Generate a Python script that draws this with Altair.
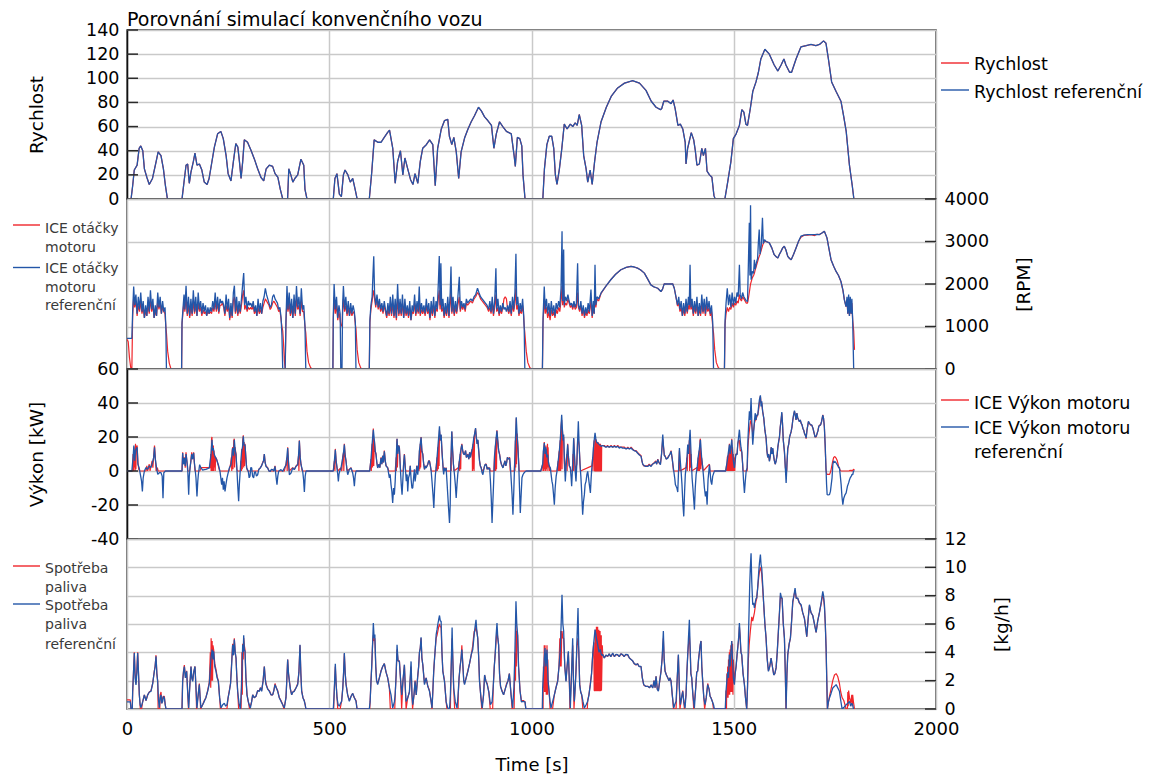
import altair as alt
import pandas as pd

FONT = "DejaVu Sans"
RED = "#f0262b"
BLUE = "#2356a8"
GRID = "#c9c9c9"
W = 809
HEIGHTS = [169, 170, 170, 170]

# ---------------------------------------------------------------- data
# vehicle speed [km/h] over time [s]
speed_ref = [
    (0, 0), (10, 0), (14, 11), (18, 24), (25, 28), (30, 42), (34, 44), (39, 40), (43, 25), (49, 18),
    (55, 12), (63, 17), (72, 31), (77, 39), (84, 36), (90, 25), (95, 11), (100, 0),
    (136, 0), (142, 17), (146, 28), (150, 29), (154, 13), (158, 22), (164, 31), (168, 38), (173, 28),
    (179, 29), (185, 24), (191, 14), (198, 12), (203, 17), (209, 29), (216, 43), (224, 54), (232, 56),
    (238, 50), (245, 36), (250, 21), (257, 15), (263, 31), (269, 46), (274, 43), (278, 31), (282, 17),
    (286, 31), (290, 49), (298, 47), (307, 40), (315, 33), (323, 25), (331, 18), (338, 15), (344, 25),
    (352, 28), (360, 27), (366, 21), (373, 18), (379, 8), (385, 0),
    (397, 0), (400, 25), (405, 20), (410, 14), (415, 17), (422, 20), (430, 33), (437, 28), (440, 8), (445, 0),
    (510, 0), (514, 17), (519, 21), (525, 4), (530, 2), (535, 20), (539, 24), (546, 20), (552, 14),
    (558, 17), (564, 8), (569, 0),
    (599, 0), (605, 22), (611, 49), (620, 47), (628, 47), (636, 51), (644, 55), (649, 57), (657, 42),
    (663, 13), (669, 31), (676, 40), (682, 20), (687, 34), (694, 25), (701, 16), (707, 12), (712, 21),
    (719, 13), (725, 31), (731, 42), (740, 45), (748, 49), (756, 45), (762, 11), (768, 42), (777, 58),
    (785, 65), (793, 66), (797, 52), (803, 45), (808, 51), (814, 39), (820, 17), (826, 39), (835, 51),
    (843, 58), (851, 64), (859, 69), (869, 76), (876, 73), (884, 68), (892, 65), (901, 61), (907, 42),
    (913, 54), (921, 64), (929, 60), (938, 56), (950, 54), (957, 36), (960, 27), (965, 51), (971, 50),
    (976, 44), (979, 20), (984, 0),
    (1028, 0), (1032, 25), (1038, 45), (1044, 52), (1050, 52), (1055, 42), (1059, 20), (1063, 12),
    (1069, 25), (1075, 42), (1081, 62), (1088, 58), (1096, 62), (1102, 60), (1108, 63), (1113, 61),
    (1118, 70), (1124, 61), (1129, 36), (1135, 25), (1139, 14), (1145, 24), (1150, 12), (1156, 31),
    (1162, 47), (1172, 64), (1185, 76), (1197, 85), (1213, 92), (1230, 96), (1250, 98), (1267, 96),
    (1283, 90), (1296, 81), (1308, 76), (1319, 74), (1322, 75), (1327, 81), (1337, 81), (1345, 79),
    (1350, 82), (1355, 75), (1362, 61), (1368, 62), (1374, 58), (1380, 47), (1382, 29), (1386, 42),
    (1395, 55), (1401, 49), (1405, 40), (1409, 28), (1415, 29), (1421, 42), (1425, 36), (1430, 42),
    (1434, 23), (1440, 20), (1446, 18), (1451, 3), (1454, 0),
    (1478, 0), (1485, 14), (1493, 31), (1499, 50), (1506, 54), (1514, 61), (1520, 74), (1525, 72),
    (1530, 62), (1534, 61), (1541, 75), (1547, 89), (1555, 97), (1561, 105), (1567, 116), (1577, 124),
    (1588, 120), (1600, 111), (1609, 106), (1617, 111), (1624, 116), (1629, 111), (1638, 105),
    (1643, 105), (1654, 116), (1666, 126), (1679, 127), (1691, 128), (1703, 127), (1712, 128),
    (1722, 131), (1728, 129), (1734, 116), (1742, 97), (1753, 89), (1765, 81), (1772, 68), (1778, 56),
    (1786, 28), (1793, 11), (1797, 0),
]
# the simulated speed follows the reference trace
speed_sim = speed_ref

# engine speed [RPM]: (time, reference, simulated)
engine_rpm = [
    (0, 720, 700), (3, 720, 640), (6, 720, 280), (9, 720, 40), (12, 720, 0), (14, 1350, 1250),
    (16.5, 1940, 1700), (19, 1500, 1450), (22, 1750, 1600), (25, 1300, 1250), (28, 1700, 1500),
    (31, 1400, 1350), (34, 1800, 1600), (37, 1350, 1300), (40, 1600, 1450), (43, 1200, 1200),
    (46, 1500, 1350), (49, 1250, 1250), (52, 1700, 1500), (55, 1350, 1300), (58, 1850, 1650),
    (61, 1400, 1350), (64, 1650, 1500), (67, 1200, 1200), (70, 1500, 1350), (73, 1250, 1250),
    (76, 1800, 1600), (79, 1450, 1400), (82, 1700, 1550), (85, 1300, 1300), (88, 1600, 1450),
    (91, 1350, 1350), (94, 1450, 1300), (96, 1000, 1000), (97.5, 0, 850), (100.5, 0, 420),
    (104.5, 0, 140), (108.5, 0, 10), (112, 0, 0),
    (135, 0, 0), (136, 1100, 1050), (139, 1500, 1400), (141, 1750, 1600), (143, 1400, 1350),
    (146, 1960, 1700), (149, 1300, 1250), (152, 1700, 1500), (155, 1250, 1200), (158, 1650, 1500),
    (161, 1300, 1250), (164, 1850, 1600), (167, 1350, 1300), (170, 1700, 1500), (173, 1250, 1250),
    (176, 1800, 1550), (179, 1400, 1350), (182, 1600, 1450), (185, 1300, 1250), (188, 1550, 1400),
    (191, 1350, 1300), (194, 1500, 1350), (197, 1250, 1250), (200, 1450, 1350), (203, 1300, 1300),
    (206, 1450, 1350), (209, 1350, 1300), (212, 1600, 1450), (215, 1400, 1350), (218, 1800, 1600),
    (221, 1400, 1350), (224, 1700, 1550), (227, 1350, 1300), (230, 1650, 1500), (233, 1550, 1500),
    (236, 1600, 1550), (239, 1500, 1450), (242, 1300, 1250), (245, 1750, 1500), (248, 1400, 1350),
    (251, 1650, 1500), (254, 1200, 1150), (257, 1550, 1400), (260, 1250, 1200), (263, 1800, 1600),
    (265.5, 1960, 1700), (268, 1350, 1300), (271, 1700, 1500), (274, 1300, 1250), (277, 1600, 1450),
    (280, 1350, 1300), (283, 1650, 1500), (286, 2000, 1750), (288.5, 2260, 1850), (291, 1500, 1400),
    (294, 1700, 1500), (297, 1400, 1350), (300, 1600, 1450), (303, 1500, 1400), (306, 1550, 1450),
    (309, 1450, 1400), (312, 1600, 1500), (315, 1350, 1300), (318, 1500, 1400), (321, 1250, 1250),
    (324, 1650, 1450), (327, 1350, 1300), (330, 1550, 1400), (333, 1300, 1300), (336, 1600, 1450),
    (339, 1700, 1550), (342, 1900, 1650), (345, 1750, 1600), (348, 1650, 1550), (351, 1550, 1500),
    (354, 1450, 1400), (357, 1500, 1450), (360, 1700, 1550), (363, 1750, 1600), (366, 1650, 1550),
    (369, 1600, 1500), (372, 1550, 1450), (375, 1400, 1350), (378, 1450, 1400), (381, 1200, 1150),
    (383, 800, 1000), (385, 0, 900), (387, 0, 600), (389, 0, 200), (391, 0, 0),
    (393, 1150, 1100), (395.5, 1950, 1650), (398, 1400, 1350), (401, 1800, 1550), (404, 1300, 1250),
    (407, 1650, 1450), (410, 1200, 1200), (413, 1750, 1500), (416, 1300, 1250), (419, 1950, 1650),
    (422, 1450, 1400), (425, 1700, 1500), (428, 1300, 1250), (431, 1900, 1600), (434, 1400, 1350),
    (437, 1500, 1350), (440, 1000, 1000), (442, 0, 850), (445, 0, 420), (449, 0, 150), (454, 0, 30),
    (459, 0, 0),
    (509, 0, 0), (510, 1250, 1150), (512, 2000, 1700), (515, 1400, 1300), (518, 1700, 1500),
    (521, 1200, 1150), (524, 1500, 1350), (527, 1300, 1150), (528.5, 0, 1050), (531.5, 0, 1000),
    (533, 1500, 1350), (535, 1950, 1650), (538, 1400, 1350), (541, 1700, 1500), (544, 1300, 1250),
    (547, 1600, 1450), (550, 1250, 1250), (553, 1550, 1400), (556, 1300, 1250), (559, 1500, 1350),
    (562, 1350, 1300), (564.5, 1100, 1050), (566, 0, 950), (569, 0, 450), (573, 0, 150), (578, 0, 20),
    (582, 0, 0),
    (599, 0, 0), (600.5, 1150, 1100), (603, 1500, 1400), (606, 1700, 1600), (608, 2200, 1750),
    (610, 2650, 1850), (612, 1800, 1650), (615, 1500, 1450), (618, 1750, 1700), (621, 1450, 1400),
    (624, 1650, 1550), (627, 1400, 1350), (630, 1550, 1450), (633, 1350, 1300), (636, 1600, 1500),
    (639, 1400, 1350), (642, 1250, 1200), (645, 1550, 1400), (648, 1300, 1250), (651, 1700, 1500),
    (654, 1300, 1250), (657, 1750, 1550), (660, 1250, 1200), (663, 1650, 1450), (666, 1200, 1150),
    (669, 2000, 1650), (672, 1300, 1250), (675, 1650, 1450), (678, 1300, 1250), (681, 1750, 1550),
    (684, 1200, 1200), (687, 1650, 1450), (690, 1300, 1250), (693, 1500, 1400), (696, 1250, 1200),
    (699, 1600, 1450), (702, 1150, 1150), (705, 1500, 1350), (708, 1350, 1300), (711, 1750, 1550),
    (714, 1300, 1250), (717, 1600, 1450), (720, 1350, 1300), (722.5, 1940, 1600), (725, 1300, 1250),
    (728, 1550, 1400), (731, 1350, 1300), (734, 1500, 1400), (737, 1300, 1250), (740, 1650, 1500),
    (743, 1350, 1300), (746, 1550, 1400), (749, 1200, 1150), (752, 1600, 1450), (755, 1300, 1250),
    (758, 1700, 1500), (761, 1250, 1200), (764, 1600, 1450), (767, 1400, 1350), (770, 2100, 1700),
    (772, 2660, 1850), (774, 1500, 1400), (776, 2490, 1800), (778, 1400, 1350), (781, 1650, 1450),
    (784, 1250, 1200), (787, 1550, 1400), (790, 1300, 1250), (793, 1700, 1500), (796, 1250, 1200),
    (799, 1800, 1550), (801, 2410, 1800), (803, 1350, 1300), (806, 1700, 1500), (809, 1300, 1250),
    (812, 1600, 1450), (815, 1350, 1300), (818, 1700, 1500), (821.5, 2170, 1700), (824, 1400, 1350),
    (827, 1600, 1500), (830, 1450, 1400), (833, 1550, 1500), (836, 1400, 1350), (839, 1650, 1550),
    (842, 1550, 1500), (846, 1600, 1550), (850, 1650, 1600), (854, 1600, 1550), (858, 1700, 1650),
    (862, 1750, 1700), (866.5, 1900, 1800), (870, 1800, 1750), (874, 1700, 1650), (878, 1650, 1600),
    (882, 1600, 1550), (886, 1550, 1500), (890, 1500, 1450), (894, 1400, 1350), (897, 1600, 1450),
    (900, 1350, 1300), (903, 1700, 1500), (906, 1300, 1250), (909, 1600, 1450), (912, 2370, 1750),
    (914, 1400, 1350), (917, 1650, 1450), (920, 1300, 1250), (923, 1500, 1400), (926, 1350, 1300),
    (929, 1550, 1450), (932, 1400, 1650), (935, 1450, 1700), (938, 1350, 1650), (941, 1500, 1400),
    (944, 1350, 1300), (947, 1600, 1450), (950, 1300, 1250), (953, 1700, 1500), (956, 1400, 1350),
    (959, 1800, 1550), (961.5, 2710, 1900), (963.5, 1500, 1400), (966, 1700, 1500), (969, 1300, 1250),
    (972, 1550, 1400), (975, 1350, 1300), (978, 1650, 1500), (980.5, 1300, 1250), (982, 950, 1000),
    (983.5, 0, 850), (987, 0, 420), (991, 0, 150), (996, 0, 30), (1001, 0, 0),
    (1027, 0, 0), (1028.5, 1200, 1100), (1031.5, 1940, 1650), (1034, 1400, 1300), (1037, 1650, 1450),
    (1040, 1300, 1200), (1043, 1550, 1350), (1046, 1250, 1150), (1049, 1600, 1400), (1052, 1300, 1250),
    (1055, 1500, 1350), (1058, 1250, 1200), (1061, 1550, 1400), (1064, 1400, 1300), (1067, 1600, 1450),
    (1070, 1450, 1350), (1073, 1900, 1600), (1075.5, 3240, 1950), (1077, 1600, 1500),
    (1079.5, 2810, 1850), (1081, 1500, 1450), (1084, 1700, 1550), (1087, 1600, 1500),
    (1090, 1750, 1650), (1093, 1600, 1550), (1096, 1500, 1450), (1099, 1550, 1500), (1102, 1450, 1400),
    (1105, 1600, 1550), (1108, 1450, 1400), (1111, 1550, 1450), (1114, 2490, 1800), (1116, 1500, 1450),
    (1119, 1400, 1350), (1122, 1600, 1500), (1125, 1300, 1250), (1128, 1500, 1400), (1131, 1250, 1200),
    (1134, 1450, 1350), (1137, 1300, 1250), (1140, 1550, 1400), (1143, 1350, 1300), (1147, 1870, 1600),
    (1150, 1250, 1200), (1153, 1600, 1450), (1155, 1300, 1300), (1157, 2450, 1800), (1159, 1500, 1450),
    (1162, 1700, 1650), (1166, 1650, 1600), (1172, 1790, 1780), (1184, 1950, 1950), (1196, 2100, 2100),
    (1208, 2230, 2230), (1221, 2335, 2335), (1234, 2390, 2390), (1246, 2413, 2413), (1254, 2400, 2400),
    (1262, 2374, 2374), (1270, 2330, 2330), (1279, 2256, 2256), (1287, 2120, 2120), (1295, 1980, 1980),
    (1303, 1930, 1930), (1312, 1900, 1900), (1320, 1822, 1822), (1324, 1880, 1880), (1328, 2004, 2004),
    (1338, 2000, 2000), (1349, 2004, 2004), (1353, 1900, 1900), (1357, 1705, 1705), (1361, 1508, 1480),
    (1364, 1700, 1550), (1367, 1400, 1350), (1370, 1600, 1450), (1373, 1250, 1250), (1376, 1550, 1400),
    (1379, 1300, 1250), (1382, 1650, 1500), (1385, 1350, 1300), (1388, 1700, 1500), (1390, 1500, 1400),
    (1392, 2455, 1800), (1394, 1450, 1400), (1397, 1650, 1500), (1400, 1300, 1250), (1403, 1600, 1450),
    (1406, 1350, 1300), (1409, 1700, 1500), (1412, 1250, 1250), (1415, 1550, 1400), (1418, 1300, 1250),
    (1421, 1750, 1550), (1424, 1350, 1300), (1427, 1650, 1500), (1430, 1300, 1250), (1433, 1700, 1500),
    (1436, 1400, 1350), (1439, 1600, 1450), (1442, 1300, 1250), (1445, 1500, 1350), (1448, 1100, 1000),
    (1450, 0, 850), (1453, 0, 450), (1457, 0, 150), (1462, 0, 30), (1466, 0, 0),
    (1477, 0, 0), (1478.5, 1150, 1050), (1481, 1550, 1300), (1484, 1900, 1450), (1487, 1500, 1350),
    (1490, 1750, 1450), (1493, 1450, 1400), (1496, 1800, 1550), (1499, 1500, 1450), (1502, 1700, 1550),
    (1505, 1550, 1500), (1508, 1800, 1600), (1511, 1700, 1550), (1514, 2450, 1750), (1516, 1750, 1650),
    (1519, 1650, 1600), (1522, 1800, 1700), (1525, 1700, 1650), (1528, 1650, 1600), (1531, 1600, 1550),
    (1534, 1590, 1550), (1536, 2400, 1650), (1538.5, 3440, 1800), (1540, 2200, 1900),
    (1541.5, 3850, 2000), (1543, 2100, 2050), (1546, 2300, 2150), (1549, 2250, 2200),
    (1551, 2570, 2250), (1553, 2350, 2330), (1556, 2500, 2430), (1559, 2600, 2530), (1561, 3000, 2600),
    (1563, 3280, 2650), (1565, 2700, 2700), (1568, 2900, 2800), (1571, 3560, 2900), (1573, 2950, 2950),
    (1576, 3045, 3000), (1580, 3000, 3000), (1588, 2967, 2967), (1594, 2850, 2850), (1600, 2690, 2690),
    (1605, 2640, 2640), (1609, 2611, 2611), (1613, 2700, 2700), (1617, 2769, 2769), (1621, 2850, 2850),
    (1625, 2887, 2887), (1629, 2800, 2800), (1633.5, 2650, 2650), (1638, 2600, 2600),
    (1642, 2572, 2572), (1648, 2700, 2700), (1654, 2848, 2848), (1660, 3000, 3000), (1666, 3124, 3100),
    (1674, 3150, 3150), (1683, 3163, 3150), (1691, 3160, 3160), (1700, 3163, 3140), (1706, 3170, 3170),
    (1712, 3163, 3163), (1718, 3200, 3200), (1724, 3243, 3243), (1730.5, 3085, 3085),
    (1735, 2850, 2850), (1740.5, 2572, 2572), (1747, 2420, 2420), (1753, 2296, 2296),
    (1759, 2200, 2200), (1765, 2059, 2059), (1770, 1850, 1850), (1773.5, 1625, 1625),
    (1777.5, 1468, 1468), (1780, 1700, 1600), (1782, 1300, 1300), (1784, 1750, 1650),
    (1786, 1250, 1250), (1788, 1700, 1600), (1790, 1300, 1300), (1792, 1650, 1550), (1794, 1150, 1150),
    (1796.5, 0, 900), (1798.5, 0, 450),
]

# engine power [kW], reference
power_ref = [
    (0, 0), (12, 0), (15, 8), (17, 15), (19, 6), (21, 12), (23, 13), (25, 14), (27, 4), (30, 2), (33, -2),
    (36, -6), (38, -12), (40, -4), (43, 0), (47, 2), (51, 1), (55, 3), (59, 2), (63, 5), (66, 8), (68, 14),
    (70, 7), (73, 2), (76, -2), (80, -1), (84, -1), (87, -3), (89, -16), (91, -1), (95, 0), (100, 0),
    (136, 0), (137.6, 10.6), (139.5, 4), (141.8, 7.6), (144, 3), (145.9, 10), (148, 6), (150, 1.8),
    (152.5, -14), (154, -3), (155.8, 1.8), (158, 6), (159.9, 10), (162, 7), (164.8, 10.6), (166.5, 5),
    (168.1, 1.8), (170.5, -4), (173, -15), (175, -6), (176.3, -2.2), (179.6, 3.7), (182.9, 1.8),
    (187, 0.5), (191.1, 0.8), (195, 1), (199.4, 1.4), (203.5, 1.8), (207.6, 9.6), (210.1, 18.4),
    (211.8, 12), (213.4, 13.5), (215.5, 10), (217.5, 8.6), (221.6, 6.7), (225.8, 3.7), (229.9, -0.2),
    (234, -8), (236, -4), (238.1, -11), (240, -6), (242.3, -12), (244.5, -8), (247.2, -4.1), (253, 1.8),
    (257.1, 3.7), (261.2, 13.5), (263.5, 9), (265.3, 18.4), (267.5, 12), (269.5, 9.6), (271.5, 2),
    (273.6, -8), (276, -17.8), (277.7, -8), (279.3, -2.2), (281.5, 6), (283.4, 11.6), (285.5, 14),
    (287.6, 20.4), (289.5, 15), (291.7, 15.5), (293.8, 8), (295.8, 1.8), (299.9, -0.2), (302, -4),
    (304.1, -3.1), (306, 2), (308.2, 1.8), (310.5, -3), (313.1, -4.1), (315, -1), (317.3, -0.2),
    (320, -3), (323, -2.2), (326, 1), (329.6, 1.8), (332.5, 3), (335.4, 4.7), (337.5, 6), (339.5, 10),
    (341.5, 5), (343.6, 2.7), (347.7, 1.8), (351, 0), (354.3, -0.2), (357, 1), (360.1, 0.8), (363, 0),
    (365.9, 2.7), (368.3, -3), (370.8, -8), (372.8, -3), (374.9, -0.2), (380.7, 0.8), (384.8, -0.2),
    (389, 1.8), (393.1, 3.7), (395.2, 8), (397.2, 13.5), (399.3, 5), (401.4, -2.2), (405.5, -1.2),
    (409.6, 1.8), (413.7, 0.8), (417.9, 2.7), (422, 3.7), (424, 9), (426.1, 17.8), (428.2, 8),
    (430.2, 3.7), (434.4, -0.2), (436.5, -5), (438.5, -12.4), (440.5, -3), (442.6, 0),
    (510, 0), (512.6, 5.7), (515, 12.5), (517, 6), (519.2, 1.8), (521, -2), (522.5, -6.1), (524, -2),
    (525.8, -0.2), (529.1, 1.8), (533.2, 7.6), (535.3, 11), (537.3, 15.5), (539.4, 9), (541.5, 5.7),
    (543.6, 1), (545.6, -2.2), (549.7, 0.8), (553.8, 1.8), (558, -1.2), (560, -4), (562.1, -9),
    (564, -3), (566.2, 0),
    (600, 0), (603.2, 7), (606, 16), (609, 24.3), (611.5, 18), (613.5, 12), (615.6, 9.6), (617.6, 5),
    (619.7, 1.8), (623, 4), (625, 2), (628, 7.6), (630, 4), (632, 9), (634, 5), (636.2, 11.6),
    (638.5, 6), (640.5, 3), (644.5, 1.8), (648.6, -4), (650.5, -2), (652.7, -8), (654.8, -12),
    (656.8, -18.8), (659, -10), (661, -13.9), (663, -6), (665.5, 8), (667.6, 19), (669.5, 10),
    (671.5, 15), (673.4, 13.5), (675.7, 2), (678, -8), (680, -14), (682, -5), (683.8, 4), (685.8, 9.6),
    (688, 2), (690.5, -6), (692.5, -2), (694, -12), (696, -4), (698.2, -2.2), (700.3, 3), (702.4, -5),
    (704.4, -10), (706.4, -10), (708.5, -4), (710.5, 1), (712.2, -6.1), (714.5, -2), (716.5, 3),
    (718.8, -2.2), (721, 4), (723, 12), (725, 16), (727, 19.8), (729, 12), (731.3, 9.6), (733.5, 4),
    (735.5, 1), (737.5, 3), (739.5, 1.8), (743.7, 4), (745.8, 6), (747.8, 5.7), (750, 3), (752, 0),
    (754, -6), (756.5, -14), (758.5, -21.8), (760.5, -10), (762.5, -2), (764.3, 1.8), (766.5, 8),
    (768.5, 14), (770.5, 20), (772.5, 26.3), (774.5, 18), (776.6, 21.4), (778.6, 12), (780.8, 4),
    (782.8, -2), (784.8, 1.8), (787, 0), (789, 1.8), (791, -6), (793, -14), (795, -22), (797.3, -30.6),
    (799, -20), (800.8, 8), (803, 23.3), (805, 12), (807, 4), (809.6, -2.2), (811.7, -8),
    (813.8, -15.9), (815.8, -8), (817.7, -2), (819.6, 1.8), (821.7, 6), (823.7, 10), (825.8, 13),
    (827.8, 15.5), (829.9, 12), (832, 10), (834.4, 9.6), (837, 12), (839, 8), (842.7, 9.6), (845, 7),
    (847, 11), (849, 8), (851, 10.6), (853.5, 13), (855.5, 16), (857.5, 20), (859.5, 22), (861.7, 25.3),
    (863.5, 20), (865.5, 16), (867.5, 18.4), (869.5, 12), (871.5, 6), (873.5, 3), (875.7, 1.8),
    (877.8, -1), (879.9, -2.2), (882, 1), (884, 3), (886, 4), (888.1, 3.7), (890.5, 1), (892.5, 2),
    (894.5, 1), (896.4, 1.8), (898.5, -6), (900.5, -16), (902.5, -30.6), (904.5, -18), (906.5, -6),
    (908.8, 9.6), (910.8, 15), (912.8, 20), (914.5, 23.7), (916.5, 18), (918.8, 12), (921.1, 9.6),
    (923.5, 6), (925.5, 4), (927.5, 3), (929.4, 1.8), (932, 4), (934.5, 6), (936.5, 3), (938.5, 5),
    (940.5, 8), (942.5, 7), (945.9, 7.6), (948, 2), (950, -6), (952, -14), (954.1, -25.7), (956.2, -12),
    (958.2, 4), (960.2, 18), (962.3, 31.6), (964.3, 22), (966.5, 13.5), (968.5, 4), (970.3, -10),
    (972.3, -24.7), (974.4, -14), (976.4, -4), (978.8, -2.2), (982, -1), (985, -0.2), (987, 0),
    (1023, 0), (1027.6, 4), (1029.5, 12), (1031.7, 16.5), (1033.5, 10), (1035.5, 14), (1037.8, 8),
    (1040, 9.6), (1042, 5), (1044, 3), (1046.6, 1.8), (1049, -3), (1050.5, -6), (1052.3, -8),
    (1054.5, -14), (1056.5, -19.8), (1058.5, -10), (1061, -3), (1063, -0.2), (1066, 6), (1068.8, 11.6),
    (1071, 18), (1073, 26), (1074.6, 33.1), (1076.5, 24), (1078, 18), (1079.5, 21.4), (1081.5, 6),
    (1083.6, -6.1), (1085.5, 2), (1087.5, 10), (1089.4, 15.5), (1091.5, 8), (1093.5, 3), (1096, 1.8),
    (1098, -4), (1099.3, -9), (1101, 0), (1102.7, 10), (1104.3, 19.4), (1106.5, 8), (1108, 0),
    (1110, -6.1), (1112, 4), (1114, 18), (1115.8, 29.2), (1117.8, 15), (1120, 3.7), (1122, -3),
    (1124, -12), (1126.5, -25.7), (1128.5, -18), (1130.7, -13.9), (1132.5, -8), (1134.8, -6.1),
    (1137, -2), (1139, -0.2), (1141, -4), (1143, -8), (1145.6, -12.9), (1147.5, -4), (1149.5, 3),
    (1151.3, 7.6), (1153.3, 14), (1155, 18), (1157.1, 22.4), (1159, 19), (1161, 17), (1163.7, 16.5),
    (1168, 15.5), (1172, 14.5), (1176, 15), (1180.2, 14.5), (1184, 14), (1188, 14.5), (1192, 14),
    (1196.7, 14.5), (1201, 14), (1205, 14.5), (1209, 14), (1213.2, 14.5), (1217, 13.5), (1221, 14),
    (1225, 13.5), (1229.7, 13.5), (1234, 13), (1238, 13.5), (1242, 13), (1246.2, 13.5), (1250, 12.5),
    (1254, 12), (1258.5, 11.6), (1262, 10.6), (1266, 9.6), (1270.9, 8.6), (1273, 6), (1275, 4),
    (1277.5, 3.3), (1282, 2.7), (1287.4, 2.7), (1291, 3.5), (1295.6, 2.7), (1299, 4), (1303.9, 4.7),
    (1307, 5.5), (1309.5, 4), (1312.1, 6.7), (1315, 5), (1318.7, 3.7), (1321.5, 10), (1324.5, 21.4),
    (1326.5, 14), (1328.5, 9), (1330.3, 8.6), (1333, 7), (1336.9, 7.6), (1340, 9), (1342.5, 10),
    (1345.1, 11.6), (1348, 7), (1351.7, 0), (1354, -4), (1355.7, -8), (1357.5, -9), (1359.5, -10),
    (1361.6, -12.4), (1363.5, 0), (1365.7, 13.5), (1367.8, 6), (1369.8, 0), (1372, -8), (1374, -18),
    (1376.4, -26.7), (1378.5, -12), (1380.3, -2), (1382.2, 1.8), (1384.3, 8), (1386.3, 15.5),
    (1388.5, 10), (1390.3, 18), (1392.1, 24.3), (1394.5, 10), (1397, -4.1), (1399, -10), (1400.8, -16),
    (1402.8, -22.7), (1404.8, -10), (1407, -2), (1409.4, 1.8), (1412, 8), (1414.5, 12), (1417.6, 18.4),
    (1420.5, 8), (1423.4, 1.8), (1425.5, -4), (1427.5, -10), (1430, -15), (1432, -12), (1434.1, -19.8),
    (1436.5, -5), (1439.9, 3.7), (1442, -2), (1443.5, -6), (1445.6, -8), (1448, -3), (1452.2, 0),
    (1480, 0), (1482, 3), (1485.2, 8), (1487.3, 12), (1489.3, 15.5), (1491.2, 10), (1493, 14),
    (1495.1, 18.4), (1497, 12), (1499, 6), (1501.6, 1.8), (1503.5, 6), (1505.5, 10), (1508.2, 9.6),
    (1510, 16), (1512, 20), (1514, 24.3), (1516, 18), (1517.8, 14), (1519.8, 11.6), (1522, 4),
    (1524, -5), (1526.4, -12.9), (1528.5, -6), (1530.7, 0), (1533, 1.8), (1535, 18), (1537, 28),
    (1538.7, 35.1), (1540.7, 30), (1542.8, 42.9), (1545, 26), (1547, 15.5), (1549, 22), (1551.1, 29.2),
    (1553, 34), (1555, 30), (1557, 33), (1559.3, 32.9), (1561.5, 38), (1563.5, 42), (1565.9, 44.5),
    (1567.5, 38), (1569.2, 41), (1571.5, 35), (1574.2, 31.2), (1577, 24), (1580, 19.4), (1582, 12),
    (1584, 8), (1586, 10), (1588.2, 5.7), (1590.5, 9), (1592.5, 14), (1594.5, 10), (1596.5, 13.5),
    (1598.5, 9), (1600.5, 6), (1602.5, 4), (1604.7, 5.7), (1607, 9), (1609, 14), (1611, 17.5),
    (1613, 20), (1615, 26), (1617, 30), (1618.8, 34.7), (1620.5, 28), (1622.5, 18), (1625.3, 11.6),
    (1627.5, 2), (1629.5, -7.1), (1631.5, 4), (1633.6, 13.5), (1636, 16), (1638, 20), (1641.9, 23.3),
    (1644, 26), (1646, 30), (1648, 33), (1650.1, 35.5), (1652, 33), (1654, 30), (1656, 34),
    (1658.3, 31.2), (1660.5, 30), (1662.5, 29), (1664.5, 30), (1666.6, 28.2), (1669, 27), (1671, 25),
    (1673, 24), (1675, 22), (1677, 21), (1679, 19.4), (1681, 24), (1684.7, 29.2), (1687, 28),
    (1690, 27.3), (1693, 27), (1696, 25), (1699, 22), (1701, 20), (1703.7, 20.4), (1706, 22),
    (1708.5, 24), (1710, 26), (1712, 26.9), (1714.5, 27), (1717, 29), (1720.2, 32.9), (1722, 31),
    (1724, 26), (1726, 15.5), (1728, 2), (1729.5, -8), (1730.9, -13.9), (1733, -14), (1736.7, -13.9),
    (1739, -12), (1741, -8), (1743, -4), (1744.9, 3.7), (1747, 6), (1749, 5), (1751, 5.5),
    (1753.2, 4.7), (1755, 4), (1757.5, 3), (1759.5, 2), (1761.4, 1.8), (1763.5, -3), (1765.5, -8),
    (1767.5, -15), (1769.7, -19.8), (1772, -16), (1775, -14), (1777.9, -12.9), (1781, -9), (1784, -7),
    (1786.2, -5.1), (1788, -4), (1790.5, -3), (1792.5, -2), (1794.4, -2.2), (1796, 0), (1798.5, 0.2),
]

# engine power [kW], simulation
power_sim = [
    (0, 0), (14, 0), (15, 10), (16, 0), (17, 14), (18, 2), (19, 12), (20, 0), (21, 16), (22, 1), (23, 14),
    (25, 15), (27, 5), (29, 1), (31, 0), (47, 0), (49, 3), (51, 0), (55, 4), (57, 0), (62, 6), (64, 2),
    (66, 9), (68, 15), (70, 8), (72, 0), (75, 2), (77, 0), (100, 0),
    (136, 0), (137.6, 11), (139.5, 4), (141.8, 8), (144, 2), (145.9, 11), (148, 6), (150, 0), (155, 0),
    (158, 6), (159.9, 11), (162, 7), (164.8, 11), (166.5, 5), (168, 0), (180, 0), (183, 2), (206, 2),
    (207, 10), (208, 0), (209, 19), (210.1, 20), (211, 0), (212, 14), (213.4, 15), (214, 0), (215, 12),
    (216, 2), (217, 9), (218, 0), (219, 8), (221.6, 7), (225.8, 3), (229, 0), (252, 0), (254, 2),
    (256, 4), (258, 8), (259, 0), (260, 12), (261.2, 14), (262, 1), (263, 11), (264, 18), (265.3, 19),
    (266, 2), (267, 14), (269.5, 10), (271.5, 1), (273, 0), (281, 0), (282, 6), (283, 0), (284, 13),
    (285, 1), (286, 18), (287.6, 21), (288.5, 2), (289.5, 17), (290.5, 3), (291.7, 16), (293.8, 8),
    (295.8, 2), (298, 0), (324, 0), (326, 1), (329.6, 2), (332.5, 3), (335.4, 5), (337.5, 6),
    (339.5, 10), (341.5, 5), (343.6, 3), (347.7, 2), (351, 0), (363, 0), (365.9, 3), (368, 0),
    (389, 0), (393.1, 4), (395.2, 8), (396, 0), (397.2, 14), (399.3, 5), (401, 0), (409.6, 2),
    (413.7, 1), (417.9, 3), (422, 4), (424, 9), (425, 0), (426.1, 18), (428.2, 8), (430.2, 4),
    (433, 0), (443, 0),
    (510, 0), (512.6, 6), (514, 0), (515, 13), (517, 6), (519.2, 2), (521, 0), (529, 2), (531, 0),
    (533.2, 8), (535.3, 11), (536, 0), (537.3, 16), (539.4, 9), (541.5, 6), (543.6, 1), (545, 0),
    (549.7, 1), (553.8, 2), (556, 0), (566, 0),
    (600, 0), (603.2, 7), (604, 0), (605, 12), (606, 16), (607, 2), (608, 20), (609, 25), (610, 3),
    (611.5, 18), (613.5, 12), (615.6, 10), (617.6, 5), (619.7, 2), (623, 4), (625, 2), (628, 8),
    (630, 4), (632, 9), (634, 5), (636.2, 12), (638.5, 6), (640.5, 3), (644.5, 2), (647, 0), (663, 0),
    (665.5, 8), (666, 0), (667, 17), (667.6, 19), (668.5, 2), (669.5, 10), (671.5, 15), (673.4, 14),
    (675.7, 2), (677, 0), (683, 0), (683.8, 4), (685.8, 10), (688, 2), (689, 0), (699, 0), (700.3, 3),
    (701, 0), (715, 0), (716.5, 3), (718.5, 0), (721, 4), (722, 0), (723, 12), (724, 1), (725, 16),
    (726, 2), (727, 20), (729, 12), (731.3, 10), (733.5, 4), (735.5, 1), (737.5, 3), (739.5, 2),
    (743.7, 4), (745.8, 6), (747.8, 6), (750, 3), (752, 0), (764, 0), (764.3, 2), (766.5, 8), (767, 0),
    (768.5, 14), (769.5, 1), (770.5, 20), (771.5, 3), (772.5, 24), (774.5, 18), (776.6, 21),
    (778.6, 12), (780.8, 4), (782, 0), (784.8, 2), (786, 0), (789, 2), (790, 0), (800, 0), (800.8, 8),
    (801.5, 0), (802.3, 18), (803, 23), (805, 12), (807, 4), (808.5, 0), (819.6, 2), (821.7, 6),
    (822.5, 0), (823.7, 10), (825, 1), (825.8, 13), (827.8, 16), (829.9, 12), (832, 10), (834.4, 10),
    (837, 12), (839, 8), (842.7, 10), (845, 7), (847, 11), (849, 8), (851, 11), (853.5, 13), (854, 0),
    (855.5, 16), (856, 1), (857.5, 20), (858, 0), (859.5, 22), (861.7, 25), (863.5, 20), (865.5, 16),
    (867.5, 18), (869.5, 12), (871.5, 6), (873.5, 3), (875.7, 2), (877, 0), (882, 1), (884, 3),
    (886, 4), (888.1, 4), (890.5, 1), (892.5, 2), (894.5, 1), (896.4, 2), (898, 0), (907, 0),
    (908.8, 10), (909.5, 0), (910.8, 15), (911.5, 0), (912.8, 20), (913.5, 1), (914.5, 24),
    (916.5, 18), (918.8, 12), (921.1, 10), (923.5, 6), (925.5, 4), (927.5, 3), (929.4, 2), (932, 4),
    (934.5, 6), (936.5, 3), (938.5, 5), (940.5, 8), (942.5, 7), (945.9, 8), (947.5, 0), (957.5, 0),
    (958.2, 4), (959, 0), (960.2, 18), (961, 2), (962.3, 31), (963, 4), (964.3, 22), (966.5, 14),
    (968.5, 4), (969.5, 0), (987, 0),
    (1023, 0), (1027.6, 4), (1028.5, 0), (1029.5, 12), (1030.2, 0), (1031, 15), (1031.7, 17),
    (1032.5, 1), (1033.5, 10), (1034.2, 0), (1035.5, 15), (1036.3, 1), (1037.8, 13), (1038.5, 0),
    (1039.5, 16), (1040.3, 2), (1041, 14), (1042, 5), (1043.5, 0), (1044, 3), (1045, 0), (1046.6, 2),
    (1047.5, 0), (1063, 0), (1066, 6), (1066.8, 0), (1068, 11), (1068.8, 12), (1069.5, 0),
    (1070.5, 16), (1071, 18), (1072, 0), (1073, 26), (1074.6, 30), (1075.5, 1), (1076.5, 24),
    (1078, 18), (1079.5, 20), (1081, 5), (1082, 0), (1087.5, 10), (1088, 0), (1089.4, 16),
    (1091.5, 8), (1093.5, 3), (1096, 2), (1097, 0), (1101, 0), (1102.7, 10), (1103.5, 0),
    (1104.3, 19), (1106.5, 8), (1108, 0), (1112, 4), (1114, 18), (1115.8, 18), (1117.8, 15),
    (1120, 4), (1121, 0), (1149.5, 3), (1151.3, 8), (1152, 0), (1153.3, 14), (1155, 18), (1156, 0),
    (1158, 0), (1158.5, 19), (1159, 0), (1161, 0), (1161.5, 17), (1162, 0), (1164, 0), (1164.5, 17),
    (1165, 0), (1167, 0), (1167.5, 16), (1168, 0), (1170, 0), (1170.5, 16), (1171, 0), (1173, 0),
    (1173.5, 15), (1176, 15), (1180.2, 15), (1184, 14), (1188, 15),
    (1192, 14), (1196.7, 15), (1201, 14), (1205, 15), (1209, 14), (1213.2, 15), (1217, 14), (1221, 14),
    (1225, 14), (1229.7, 14), (1234, 13), (1238, 14), (1242, 13), (1246.2, 14), (1250, 13), (1254, 12),
    (1258.5, 12), (1262, 11), (1266, 10), (1270.9, 9), (1273, 6), (1275, 4), (1277.5, 3), (1282, 3),
    (1287.4, 3), (1291, 4), (1295.6, 3), (1299, 4), (1303.9, 5), (1307, 6), (1309.5, 4), (1312.1, 7),
    (1315, 5), (1318.7, 4), (1321.5, 10), (1324.5, 19), (1326.5, 14), (1328.5, 9), (1330.3, 9),
    (1333, 7), (1336.9, 8), (1340, 9), (1342.5, 10), (1345.1, 12), (1348, 7), (1351, 0), (1363.5, 0),
    (1365.7, 12), (1367, 0), (1382.2, 2), (1384.3, 8), (1385, 0), (1386.3, 15), (1388.5, 10),
    (1390.3, 18), (1391, 0), (1392.1, 18), (1393, 2), (1394.5, 10), (1396, 0), (1409.4, 2), (1411, 0),
    (1412, 8), (1413, 0), (1414.5, 12), (1415.5, 0), (1416.5, 18), (1417.6, 19), (1418.5, 1),
    (1420.5, 8), (1423.4, 2), (1424.5, 0), (1439.9, 4), (1441, 0), (1453, 0),
    (1480, 0), (1482, 3), (1483, 0), (1484, 8), (1485.2, 9), (1486, 0), (1487.3, 12), (1488, 0),
    (1489.3, 16), (1490, 0), (1491.2, 12), (1492, 0), (1493, 15), (1494, 0), (1495.1, 19), (1496, 0),
    (1497, 14), (1498, 0), (1499, 10), (1500, 0), (1501.6, 8), (1502.5, 0), (1503.5, 8), (1505.5, 10),
    (1508.2, 10), (1510, 16), (1512, 18), (1514, 18), (1516, 12), (1517.8, 12), (1519.8, 11),
    (1522, 4), (1523, 0), (1533, 0), (1533.5, 2), (1535, 14), (1537, 20), (1538.7, 24), (1540.7, 28),
    (1542.8, 30), (1545, 26), (1547, 22), (1549, 24), (1551.1, 28), (1553, 30), (1555, 30), (1557, 32),
    (1559.3, 33), (1561.5, 36), (1563.5, 40), (1565.9, 44), (1567.5, 40), (1569.2, 40), (1571.5, 35),
    (1574.2, 31), (1577, 24), (1580, 19), (1582, 12), (1584, 8), (1586, 10), (1588.2, 6), (1590.5, 9),
    (1592.5, 14), (1594.5, 10), (1596.5, 13), (1598.5, 9), (1600.5, 6), (1602.5, 4), (1604.7, 6),
    (1607, 9), (1609, 14), (1611, 17), (1613, 20), (1615, 26), (1617, 30), (1618.8, 34), (1620.5, 28),
    (1622.5, 18), (1625.3, 11), (1627.5, 2), (1629, 0), (1631, 0), (1631.5, 4), (1633.6, 13),
    (1636, 16), (1638, 20), (1641.9, 23), (1644, 26), (1646, 30), (1648, 33), (1650.1, 35), (1652, 33),
    (1654, 30), (1656, 34), (1658.3, 31), (1660.5, 30), (1662.5, 29), (1664.5, 30), (1666.6, 28),
    (1669, 27), (1671, 25), (1673, 24), (1675, 22), (1677, 21), (1679, 19), (1681, 24), (1684.7, 29),
    (1687, 28), (1690, 27), (1693, 27), (1696, 25), (1699, 22), (1701, 20), (1703.7, 20), (1706, 22),
    (1708.5, 24), (1710, 26), (1712, 27), (1714.5, 27), (1717, 29), (1720.2, 33), (1722, 31),
    (1724, 26), (1726, 15), (1728, 1), (1730, -2), (1737, -2), (1740, 0), (1744, 5), (1747, 8),
    (1750, 8.5), (1753, 7.6), (1756, 6), (1759, 3), (1762, 1), (1765, 0), (1785, 0), (1788, 0.5),
    (1790, 0), (1792, 0.5), (1794, 0), (1796, 1), (1798.5, 0.5),
]

# fuel consumption [kg/h], reference
fuel_ref = [
    (0, 0.5), (8, 0.5), (10, 0), (13, 0), (14, 1.2), (16, 2.5), (18.1, 3.95), (20, 2.2), (22.2, 1.7),
    (24.5, 2.6), (26.4, 3.95), (28.5, 2.5), (30.5, 1.0), (32.5, 0.3), (34.6, 0.1), (38.7, 0.5),
    (42.9, 1.0), (47, 0.6), (51.1, 1.0), (55.2, 1.2), (59.3, 1.25), (63.5, 1.8), (67.6, 2.66),
    (69.5, 3.0), (71.7, 3.72), (73.8, 2.5), (75.8, 1.95), (78, 0.6), (79.9, 0.1), (82, 0.8),
    (84.1, 1.0), (86, 0.4), (88.2, 0.54), (90, 0.9), (92.3, 0.78), (94.5, 0.3), (96.4, 0), (136, 0),
    (137.6, 1.95), (139.7, 2.6), (141.8, 3.0), (144.5, 2.2), (147.5, 2.66), (150, 1.2), (152.5, 0.07),
    (155, 1.5), (158.2, 3.0), (160.2, 2.2), (162.3, 1.95), (165, 2.6), (168.1, 3.0), (170.5, 1.5),
    (173, 0.07), (176, 1.0), (178.8, 1.72), (180.8, 0.8), (182.9, 0.07), (187, 0.3), (191.1, 0.54),
    (195, 0.8), (199.4, 1.25), (203.5, 1.8), (207.6, 3.6), (210.5, 4.2), (212.5, 3.5), (214.2, 4.07),
    (217, 3.0), (220, 2.66), (222.8, 2.2), (225.8, 1.95), (229, 0.8), (232.4, 0.07), (236.5, 0.3),
    (240.6, 0.4), (244, 0.2), (247.2, 0.3), (250, 0.8), (253, 1.25), (256, 1.8), (258.5, 3.0),
    (261.2, 4.54), (263.3, 3.8), (265.3, 4.9), (267.5, 4.0), (269.5, 3.6), (271.5, 2.3), (273.6, 1.25),
    (277, 0.4), (280.2, 0), (283, 1.5), (286, 4.54), (287.3, 4.0), (288.5, 5.2), (290, 4.2),
    (291.7, 4.07), (294, 2.2), (296.7, 1.0), (300, 0.5), (304.9, 0.07), (308, 0.5), (310.7, 1.0),
    (314.5, 0.8), (318.9, 0.9), (323, 1.3), (327.2, 1.25), (330, 1.5), (332.9, 1.25), (336.5, 2.0),
    (339.5, 3.0), (341.5, 2.2), (343.6, 1.72), (348, 1.4), (351.9, 1.25), (356, 1.0), (360.1, 1.0),
    (363, 1.3), (365.9, 1.72), (369, 1.5), (372.5, 1.25), (376.5, 0.8), (380.7, 0.54), (385, 0.3),
    (389, 0.07), (393, 0.8), (395, 2.0), (397.2, 3.5), (399.3, 2.5), (401.4, 1.95), (404, 1.4),
    (407.1, 1.0), (410, 1.2), (413.7, 1.25), (418, 1.5), (422, 1.72), (425, 2.6), (427.7, 4.54),
    (429.8, 2.5), (431.8, 1.25), (435, 0.8), (438.4, 0.54), (440.5, 0.3), (442.5, 0), (510, 0),
    (512, 1.0), (515, 3.2), (517, 1.8), (519.2, 0.78), (522, 0.3), (524.9, 0.2), (527.8, 0.4),
    (530.7, 0.54), (533.5, 1.5), (535.5, 2.6), (537.3, 3.95), (539.5, 2.5), (541.5, 1.72),
    (545.5, 1.0), (549.7, 0.54), (554, 0.9), (558, 1.1), (562, 0.8), (566.2, 0.54), (568.7, 0), (599, 0),
    (601, 0.5), (603.2, 1.95), (605, 3.0), (607, 4.5), (609, 6.07), (611, 5.0), (612.7, 5.25),
    (615, 3.0), (617, 2.0), (619.7, 1.72), (623.9, 2.2), (628, 2.66), (632.1, 3.0), (636.2, 3.2),
    (640.4, 2.6), (644.5, 2.2), (648.6, 1.5), (652.7, 1.0), (656.8, 0.07), (661, 0.5), (663, 1.0),
    (665.5, 2.5), (667.6, 4.54), (670, 3.4), (673.4, 3.36), (676.5, 2.0), (679.2, 1.0), (682.3, 2.0),
    (685.8, 3.13), (688, 1.5), (690, 0.54), (694, 0.78), (698.2, 1.2), (702.3, 3.36), (704.5, 1.0),
    (706.4, 0.3), (709.5, 1.0), (712.2, 1.95), (715, 1.0), (718.4, 2.2), (721, 3.0), (723, 4.0),
    (725, 4.3), (727, 5.06), (729, 3.6), (731.3, 3.13), (735.4, 1.72), (739.5, 2.2), (743.7, 1.6),
    (747.8, 1.25), (752, 0.5), (754.1, 0.07), (756, 1.2), (758.3, 2.66), (760.4, 3.6), (762.5, 4.4),
    (764.3, 5.25), (766.4, 5.6), (768.5, 6.0), (770.5, 6.3), (772.6, 6.6), (774.6, 6.2), (776.6, 6.2),
    (778.6, 4.0), (780.8, 2.66), (784.9, 1.95), (789, 0.5), (793, 0.07), (797.3, 0), (799.5, 1.0),
    (801.5, 3.0), (803.7, 5.76), (805.5, 3.5), (807.6, 1.48), (811.7, 0.5), (815.9, 0.07),
    (818.5, 1.0), (821, 2.2), (823.5, 3.0), (826, 3.6), (827.8, 4.2), (830.5, 3.0), (832.5, 2.0),
    (834.4, 1.72), (838.5, 2.2), (842.7, 2.66), (846.8, 3.2), (851, 3.84), (854.8, 4.2), (856.5, 4.7),
    (858.5, 5.3), (860.5, 5.8), (862.8, 6.3), (864.8, 5.5), (867.1, 5.0), (869.2, 3.8), (871.5, 1.95),
    (875, 0.8), (878.4, 0.07), (881.5, 1.0), (884.1, 2.4), (887, 2.0), (890.5, 1.72), (894.5, 1.2),
    (898.5, 0.3), (902.5, 0.5), (905.5, 1.6), (908, 3.0), (910.5, 4.0), (912.5, 5.2), (914.7, 6.07),
    (916.7, 5.0), (918.7, 4.54), (921, 2.5), (923.5, 1.6), (927, 1.25), (931, 1.0), (935, 1.4),
    (938.5, 1.72), (942, 2.0), (945.3, 2.5), (949.5, 1.0), (953.4, 0.07), (956.5, 1.5), (959, 4.0),
    (961.6, 7.6), (963.6, 6.0), (965.7, 5.25), (968, 3.0), (971.7, 1.25), (975, 0.5), (980, 0.54),
    (984, 0.5), (986, 0), (1027, 0),
    (1027.6, 1.48), (1029.5, 2.5), (1031.5, 3.5), (1033.4, 4.3), (1035.5, 3.0), (1038.3, 4.2),
    (1041, 2.0), (1044.1, 1.0), (1046, 0.5), (1048.2, 0.07), (1052, 0.5), (1056.5, 1.0), (1060.5, 1.5),
    (1064.7, 1.95), (1068, 3.0), (1071.3, 4.3), (1073.3, 6.0), (1075.4, 8.07), (1077.5, 6.0),
    (1079.5, 5.5), (1082.3, 3.0), (1085.3, 1.95), (1088, 3.0), (1091.1, 4.07), (1093.5, 2.0),
    (1096, 0.07), (1099, 2.5), (1101.8, 5.0), (1103.8, 2.0), (1105.9, 0.54), (1108, 1.5),
    (1110, 2.66), (1112.5, 5.0), (1115, 7.13), (1117, 4.0), (1119.1, 1.72), (1121.6, 1.2),
    (1124.1, 1.0), (1127.5, 0.5), (1130.7, 0.07), (1135, 0.3), (1138.9, 0.54), (1142, 1.0),
    (1145.5, 1.72), (1148.5, 2.5), (1151.3, 3.84), (1154, 4.7), (1157.1, 5.6), (1160.5, 5.0),
    (1163.7, 4.54), (1167, 4.0), (1170, 4.2), (1173, 3.8), (1176, 3.84), (1180, 3.6), (1184, 3.8),
    (1188.4, 3.72), (1192, 3.9), (1196, 3.7), (1200.8, 3.95), (1205, 3.7), (1209, 3.85),
    (1213.1, 3.84), (1217, 3.7), (1221, 3.9), (1225.5, 3.84), (1229, 3.7), (1233, 3.85),
    (1237.9, 3.84), (1242, 3.6), (1246.1, 3.5), (1250, 3.4), (1254, 3.2), (1258.5, 3.13), (1262, 3.2),
    (1266, 3.0), (1270.8, 3.0), (1274, 2.2), (1277.4, 1.72), (1282, 1.6), (1287.3, 1.6), (1292, 1.5),
    (1295.5, 1.7), (1299.7, 1.48), (1303, 2.0), (1305.5, 1.5), (1307.9, 2.3), (1311, 1.4),
    (1313.7, 1.25), (1317, 2.0), (1320.3, 2.66), (1323, 3.6), (1326, 5.5), (1328, 3.5), (1330.2, 2.66),
    (1333.5, 2.4), (1336.8, 2.2), (1340, 2.0), (1342.5, 2.2), (1345, 1.95), (1348, 1.0),
    (1351.6, 0.07), (1354, 0.3), (1357.4, 0.54), (1360, 2.0), (1363.1, 3.84), (1365.5, 1.5),
    (1368.1, 0.3), (1371, 0.8), (1373.9, 1.25), (1376.5, 0.5), (1379.6, 0.07), (1382, 1.0),
    (1384, 2.5), (1386.2, 3.84), (1388, 5.0), (1390.3, 6.3), (1392.5, 4.0), (1394, 2.5), (1396.1, 2.2),
    (1399, 1.0), (1402.7, 0.07), (1406, 1.5), (1408.5, 2.6), (1410.9, 2.66), (1413, 3.5), (1415, 4.0),
    (1417, 4.5), (1419.1, 4.8), (1421, 3.0), (1423.2, 1.95), (1426, 0.8), (1429, 0.3), (1432, 0.8),
    (1435.6, 1.72), (1439, 1.4), (1441.5, 0.9), (1443.8, 0.78), (1447.5, 0.5), (1450, 0.3),
    (1452.1, 0), (1479, 0),
    (1480.9, 1.25), (1483, 2.0), (1485, 2.6), (1487, 2.2), (1489.2, 3.84), (1491, 3.0), (1493, 4.0),
    (1495, 4.8), (1497, 3.5), (1499, 2.2), (1501.6, 1.72), (1503.5, 2.5), (1505.8, 3.0),
    (1508.2, 3.84), (1510.5, 4.5), (1512.5, 5.2), (1514, 6.07), (1516, 5.0), (1517.8, 4.0),
    (1519.7, 3.84), (1523, 2.5), (1526.3, 1.72), (1529, 0.8), (1532.1, 0), (1534, 1.5), (1536.2, 5.0),
    (1538, 7.0), (1539.5, 8.78), (1541, 10.0), (1542.8, 11.0), (1544.5, 9.0), (1546.9, 7.36),
    (1549, 7.5), (1551.1, 7.13), (1553, 7.5), (1555, 7.8), (1556.8, 7.84), (1559, 8.5), (1561.8, 9.7),
    (1563.5, 10.3), (1565.9, 10.9), (1567.5, 10.2), (1569.2, 9.95), (1571.5, 8.8), (1574.2, 7.36),
    (1577, 6.0), (1579.9, 5.0), (1582.8, 3.5), (1585.7, 2.66), (1589, 3.0), (1592.3, 3.6),
    (1595.5, 3.0), (1598.9, 2.4), (1601.5, 2.5), (1604.7, 2.9), (1607.5, 4.0), (1610.4, 5.5),
    (1613, 6.8), (1615.4, 8.2), (1617.5, 7.9), (1619.5, 7.84), (1622.5, 6.0), (1625.3, 5.0),
    (1627.5, 2.5), (1629.4, 0), (1631.5, 2.5), (1633.5, 3.84), (1637, 4.6), (1640.1, 5.0),
    (1643, 6.2), (1645.9, 7.6), (1648.8, 8.0), (1651.6, 8.54), (1654.5, 7.8), (1658.2, 7.84),
    (1662, 7.5), (1666.5, 7.36), (1670.5, 6.8), (1674.7, 6.4), (1677.5, 5.8), (1680.5, 5.1),
    (1683.5, 6.2), (1687.1, 7.36), (1691, 6.8), (1695.3, 6.6), (1699.5, 6.0), (1703.6, 5.4),
    (1707.5, 6.2), (1711.8, 6.8), (1716, 7.5), (1720.1, 8.3), (1722, 8.0), (1724.2, 7.36),
    (1726.3, 6.0), (1728.3, 4.3), (1730, 2.0), (1731.6, 0), (1734, 0.5), (1736.6, 0.78),
    (1740.5, 1.1), (1744.8, 1.48), (1749, 1.6), (1753.1, 1.72), (1757, 1.5), (1761.3, 1.25),
    (1764.5, 0.6), (1767.9, 0), (1772, 0.1), (1777.8, 0.3), (1782, 0.4), (1786.1, 0.54), (1789, 0.2),
    (1791.8, 0.4), (1794, 0.3), (1795.9, 0),
]

# fuel consumption [kg/h], simulation
fuel_sim = [
    (0, 0.65), (8, 0.65), (10, 0), (13, 0), (14, 1.2), (16, 2.6), (18.1, 4.0), (20, 2.5), (22.2, 1.8),
    (24.5, 2.8), (26.4, 4.0), (28.5, 2.5), (30.5, 1.0), (33, 0), (36, 0), (38.7, 0.5), (42.9, 1.0),
    (47, 0.6), (51.1, 1.0), (55.2, 1.2), (59.3, 1.3), (63.5, 1.8), (67.6, 2.7), (69.5, 3.0),
    (71.7, 3.8), (73.8, 2.5), (75.8, 2.0), (77, 0), (81, 0), (82, 1.0), (84.1, 1.2), (86, 0.4),
    (88.2, 0.8), (90, 0.9), (92.3, 0.9), (94.5, 0.3), (96.4, 0), (136, 0),
    (137.6, 2.0), (139.7, 2.7), (141.8, 3.1), (144.5, 2.2), (147.5, 2.7), (150, 1.2), (152, 0),
    (155, 1.5), (158.2, 3.0), (160.2, 2.2), (162.3, 2.0), (165, 2.6), (168.1, 3.0), (170.5, 1.5),
    (172, 0), (176, 1.0), (178.8, 1.8), (180.8, 0.8), (182, 0), (187, 0.3), (191.1, 0.6), (195, 0.8),
    (199.4, 1.3), (203.5, 1.9), (206, 4.0), (207, 1.5), (208, 5.0), (209, 2.0), (210.5, 4.8),
    (211.5, 2.0), (212.5, 4.5), (214.2, 4.2), (217, 3.2), (220, 2.8), (222.8, 2.3), (225.8, 2.0),
    (229, 0.8), (231, 0), (247, 0), (250, 0.8), (253, 1.3), (256, 1.8), (258.5, 3.2), (261.2, 4.6),
    (263.3, 3.8), (265.3, 5.0), (267.5, 4.0), (269.5, 3.6), (271.5, 2.3), (273.6, 1.2), (276, 0),
    (282, 0), (283, 1.5), (284, 4.0), (285, 1.0), (286, 4.6), (287.3, 3.5), (288.5, 5.0), (290, 4.5),
    (291.7, 4.2), (294, 2.2), (296.7, 1.0), (300, 0.5), (303, 0), (308, 0.5), (310.7, 1.0),
    (314.5, 0.8), (318.9, 0.9), (323, 1.3), (327.2, 1.3), (330, 1.5), (332.9, 1.3), (336.5, 2.0),
    (339.5, 3.0), (341.5, 2.2), (343.6, 1.8), (348, 1.4), (351.9, 1.3), (356, 1.0), (360.1, 1.0),
    (363, 1.3), (365.9, 1.8), (369, 1.5), (372.5, 1.3), (376.5, 0.8), (380.7, 0.6), (385, 0.3),
    (388, 0), (393, 0.8), (395, 2.0), (397.2, 3.5), (399.3, 2.5), (401.4, 2.0), (404, 1.4),
    (407.1, 1.0), (410, 1.2), (413.7, 1.3), (418, 1.5), (422, 1.8), (425, 2.6), (427.7, 4.5),
    (429.8, 2.5), (431.8, 1.3), (435, 0.8), (438.4, 0.6), (440.5, 0.3), (442, 0), (511, 0),
    (512, 1.0), (515, 3.0), (517, 1.8), (519.2, 0.8), (521, 0), (527, 0), (530.7, 0.6), (533.5, 1.5),
    (535.5, 2.6), (537.3, 3.9), (539.5, 2.5), (541.5, 1.8), (545.5, 1.0), (549.7, 0.6), (554, 0.9),
    (558, 1.1), (562, 0.8), (566.2, 0.6), (568.7, 0), (600, 0),
    (601, 0.5), (603.2, 2.0), (605, 3.0), (607, 4.5), (609, 5.2), (611, 4.8), (612.7, 5.0), (615, 3.0),
    (617, 2.0), (619.7, 1.8), (623.9, 2.2), (628, 2.7), (632.1, 3.0), (636.2, 3.2), (640.4, 2.6),
    (644.5, 2.2), (648.6, 1.5), (651, 0), (662, 0), (663, 1.0), (665.5, 2.5), (667.6, 4.2), (670, 3.4),
    (673.4, 3.4), (676.5, 2.0), (679, 0), (682.3, 2.0), (685.8, 3.1), (688, 1.5), (690, 0),
    (694, 0.8), (698.2, 1.2), (702.3, 3.0), (704.5, 1.0), (706, 0), (709.5, 1.0), (712.2, 2.0),
    (715, 1.0), (718.4, 2.2), (721, 3.0), (723, 4.0), (725, 4.3), (727, 5.0), (729, 3.6), (731.3, 3.1),
    (735.4, 1.8), (739.5, 2.2), (743.7, 1.6), (747.8, 1.3), (752, 0.5), (754, 0), (756, 1.2),
    (758.3, 2.7), (760.4, 3.6), (762.5, 4.4), (764.3, 5.0), (766.4, 5.2), (768.5, 5.5), (770.5, 5.8),
    (772.6, 6.0), (774.6, 5.8), (776.6, 5.8), (778.6, 4.0), (780.8, 2.7), (784.9, 2.0), (789, 0.5),
    (791, 0), (799.5, 0), (800, 1.0), (801.5, 3.0), (803.7, 5.0), (805.5, 3.5), (807.6, 1.5),
    (810, 0), (818.5, 0), (819, 1.0), (821, 2.2), (823.5, 3.0), (826, 3.6), (827.8, 4.5),
    (830.5, 3.0), (832.5, 2.0), (834.4, 1.8), (838.5, 2.2), (842.7, 2.7), (846.8, 3.2), (851, 3.8),
    (854.8, 4.5), (856.5, 5.0), (858.5, 5.5), (860.5, 5.5), (862.8, 5.8), (864.8, 5.5), (867.1, 5.0),
    (869.2, 3.8), (871.5, 2.0), (875, 0.8), (877, 0), (881.5, 1.0), (884.1, 2.4), (887, 2.0),
    (890.5, 1.8), (894.5, 1.2), (898, 0), (904, 0), (905.5, 1.6), (908, 3.0), (910.5, 4.0),
    (912.5, 4.8), (914.7, 5.5), (916.7, 5.0), (918.7, 4.5), (921, 2.5), (923.5, 1.6), (927, 1.3),
    (931, 1.0), (935, 1.4), (938.5, 1.8), (942, 2.0), (945.3, 2.5), (949.5, 1.0), (952, 0), (957, 0),
    (959, 4.0), (960.5, 2.0), (961.6, 6.0), (962.5, 3.0), (963.6, 5.5), (965.7, 5.2), (968, 3.0),
    (971.7, 1.3), (975, 0.6), (980, 0.6), (984, 0.5), (986, 0), (1027, 0),
    (1027.6, 1.5), (1028.5, 0), (1029.5, 3.0), (1030.5, 1.5), (1031.5, 4.5), (1032.3, 1.2),
    (1033.4, 4.5), (1034.3, 1.2), (1035.5, 4.0), (1036.5, 1.0), (1038.3, 4.5), (1039.3, 1.0),
    (1040.3, 3.5), (1041, 2.0), (1044.1, 1.0), (1046, 0), (1052, 0), (1056.5, 1.0), (1060.5, 1.5),
    (1064.7, 2.0), (1068, 3.0), (1070, 5.0), (1071.3, 3.0), (1072.5, 5.5), (1073.3, 3.0),
    (1074.5, 5.0), (1075.4, 5.5), (1077.5, 5.0), (1079.5, 5.0), (1082.3, 3.0), (1085.3, 2.0),
    (1088, 3.0), (1091.1, 4.0), (1093.5, 2.0), (1095, 0), (1099, 2.5), (1101.8, 4.5), (1103.8, 2.0),
    (1105, 0), (1108, 1.5), (1110, 2.7), (1112.5, 4.5), (1115, 5.0), (1117, 4.0), (1119.1, 1.8),
    (1121.6, 1.2), (1124.1, 1.0), (1127, 0), (1138, 0), (1138.9, 0.6), (1142, 1.0), (1145.5, 1.8),
    (1148.5, 2.5), (1151.3, 3.8), (1154, 4.7), (1155, 1.3), (1157, 1.3), (1157.5, 5.6), (1158, 1.3),
    (1160, 1.3), (1160.5, 5.8), (1161, 1.3), (1163, 1.3), (1163.5, 5.8), (1164, 1.3), (1166, 1.3),
    (1166.5, 5.6), (1167, 1.3), (1169, 1.3), (1169.5, 5.5), (1170, 1.3), (1172, 1.3), (1172.5, 5.2),
    (1173, 1.3), (1175, 4.5), (1176, 3.9), (1180, 3.6), (1184, 3.8), (1188.4, 3.7),
    (1192, 3.9), (1196, 3.7), (1200.8, 3.9), (1205, 3.7), (1209, 3.85), (1213.1, 3.8), (1217, 3.7),
    (1221, 3.9), (1225.5, 3.8), (1229, 3.7), (1233, 3.85), (1237.9, 3.8), (1242, 3.6), (1246.1, 3.5),
    (1250, 3.4), (1254, 3.2), (1258.5, 3.1), (1262, 3.2), (1266, 3.0), (1270.8, 3.0), (1274, 2.2),
    (1277.4, 1.7), (1282, 1.6), (1287.3, 1.6), (1292, 1.5), (1295.5, 1.7), (1299.7, 1.5), (1303, 2.0),
    (1305.5, 1.5), (1307.9, 2.3), (1311, 1.4), (1313.7, 1.3), (1317, 2.0), (1320.3, 2.7), (1323, 3.6),
    (1326, 5.0), (1328, 3.5), (1330.2, 2.7), (1333.5, 2.4), (1336.8, 2.2), (1340, 2.0), (1342.5, 2.2),
    (1345, 2.0), (1348, 1.0), (1351, 0), (1357.4, 0), (1358, 0.5), (1360, 2.0), (1363.1, 3.8),
    (1365.5, 1.5), (1367, 0), (1371, 0.8), (1373.9, 1.3), (1376.5, 0.5), (1378, 0), (1382, 1.0),
    (1384, 2.5), (1386.2, 3.8), (1388, 4.5), (1390.3, 5.2), (1392.5, 4.0), (1394, 2.5), (1396.1, 2.2),
    (1399, 1.0), (1401, 0), (1406, 1.5), (1408.5, 2.6), (1410.9, 2.7), (1413, 3.5), (1415, 4.0),
    (1417, 4.5), (1419.1, 4.8), (1421, 3.0), (1423.2, 2.0), (1426, 0.8), (1428, 0), (1432, 0.8),
    (1435.6, 1.8), (1439, 1.4), (1441.5, 0.9), (1443.8, 0.8), (1447.5, 0.5), (1450, 0), (1480, 0),
    (1480.9, 1.3), (1482, 0), (1483, 2.5), (1484, 0.8), (1485, 3.0), (1486, 0.8), (1487, 3.5),
    (1488, 1.0), (1489.2, 4.0), (1490, 1.0), (1491, 4.2), (1492, 1.2), (1493, 4.5), (1494, 1.2),
    (1495, 4.8), (1496, 1.2), (1497, 4.6), (1498, 1.0), (1499, 3.5), (1501.6, 1.8), (1503.5, 2.5),
    (1505.8, 3.0), (1508.2, 3.8), (1510.5, 4.5), (1512.5, 5.0), (1514, 5.8), (1516, 5.0),
    (1517.8, 4.0), (1519.7, 3.8), (1523, 2.5), (1526.3, 1.8), (1529, 0.8), (1532, 0), (1534, 1.5),
    (1536.2, 3.5), (1538, 4.5), (1539.5, 5.0), (1541, 5.5), (1542.8, 6.0), (1544.5, 6.5),
    (1546.9, 6.2), (1549, 6.5), (1551.1, 6.8), (1553, 7.2), (1555, 7.6), (1556.8, 7.8), (1559, 8.5),
    (1561.8, 9.3), (1563.5, 9.7), (1565.9, 10.0), (1567.5, 9.8), (1569.2, 9.5), (1571.5, 8.5),
    (1574.2, 7.3), (1577, 6.0), (1579.9, 5.0), (1582.8, 3.5), (1585.7, 2.7), (1589, 3.0),
    (1592.3, 3.6), (1595.5, 3.0), (1598.9, 2.4), (1601.5, 2.5), (1604.7, 2.9), (1607.5, 4.0),
    (1610.4, 5.5), (1613, 6.8), (1615.4, 8.0), (1617.5, 7.8), (1619.5, 7.8), (1622.5, 6.0),
    (1625.3, 5.0), (1627.5, 2.5), (1629, 0), (1631.5, 2.5), (1633.5, 3.8), (1637, 4.6), (1640.1, 5.0),
    (1643, 6.2), (1645.9, 7.5), (1648.8, 8.0), (1651.6, 8.4), (1654.5, 7.8), (1658.2, 7.8),
    (1662, 7.5), (1666.5, 7.3), (1670.5, 6.8), (1674.7, 6.4), (1677.5, 5.8), (1680.5, 5.1),
    (1683.5, 6.2), (1687.1, 7.3), (1691, 6.8), (1695.3, 6.6), (1699.5, 6.0), (1703.6, 5.4),
    (1707.5, 6.2), (1711.8, 6.8), (1716, 7.4), (1720.1, 8.1), (1722, 7.8), (1724.2, 7.2),
    (1726.3, 6.0), (1728.3, 4.3), (1730, 2.0), (1731.5, 0), (1736, 0.8), (1740.5, 1.4), (1744.8, 2.0),
    (1749, 2.4), (1753.1, 2.5), (1757, 2.3), (1761.3, 1.8), (1764.5, 1.2), (1767.9, 0.8), (1772, 0.6),
    (1775, 0.3), (1777.8, 0), (1781, 0), (1782, 1.2), (1783, 0.2), (1784, 1.3), (1786.1, 0.8),
    (1789, 0.4), (1791.8, 1.0), (1793, 0.2), (1794, 1.0), (1795.9, 0.5), (1798.5, 0),
]

# axis tick values
time_ticks = [0, 500, 1000, 1500, 2000]
speed_ticks = [0, 20, 40, 60, 80, 100, 120, 140]
rpm_ticks = [0, 1000, 2000, 3000, 4000]
power_ticks = [-40, -20, 0, 20, 40, 60]
fuel_ticks = [0, 2, 4, 6, 8, 10, 12]

# ---------------------------------------------------------------- helpers
x_scale = alt.Scale(domain=[0, 2000], nice=False, zero=False)
ONE_ROW = pd.DataFrame({"k": [0]})


def x_axis(show_labels):
    common = dict(values=time_ticks, grid=True, gridColor=GRID, gridWidth=1.5,
                  ticks=False, tickSize=0, domain=False)
    if not show_labels:
        return alt.Axis(labels=False, title=None, **common)
    return alt.Axis(labels=True, labelFont=FONT, labelFontSize=18, labelColor="black",
                    labelPadding=11, labelFlush=False, labelOverlap=False, format="d",
                    title="Time [s]", titleFont=FONT, titleFontSize=18, titleFontWeight="normal",
                    titleColor="black", titleY=56, titleBaseline="middle", **common)


def y_axis(orient, values, title, title_x, height):
    return alt.Axis(orient=orient, values=values, grid=True, gridColor=GRID, gridWidth=1.5,
                    ticks=False, tickSize=0, domain=(orient == "left"), domainColor="#111111",
                    domainWidth=1.5, labelFont=FONT, labelFontSize=17.5, labelColor="black",
                    labelPadding=8, labelFlush=False, labelOverlap=False,
                    labelExpr="'' + datum.value", title=title, titleFont=FONT,
                    titleFontSize=18.5, titleFontWeight="normal", titleColor="black",
                    titleAngle=270, titleX=title_x, titleY=height / 2, titleAlign="center",
                    titleBaseline="middle")


def series(points, color, width, y_scale, y_ax, x_ax):
    df = pd.DataFrame(points, columns=["t", "v"])
    return alt.Chart(df).mark_line(color=color, strokeWidth=width, clip=True,
                                   strokeJoin="bevel").encode(
        x=alt.X("t:Q", scale=x_scale, axis=x_ax),
        y=alt.Y("v:Q", scale=y_scale, axis=y_ax),
    )


def inner_ticks(values, y_scale, y_ax, side):
    x0, x1 = (0, 11) if side == "left" else (W - 11, W)
    return alt.Chart(pd.DataFrame({"v": values})).mark_rule(color="#2a2a2a", strokeWidth=1.5).encode(
        x=alt.value(x0), x2=alt.value(x1), y=alt.Y("v:Q", scale=y_scale, axis=y_ax))


def key_line(x0, x1, y, color):
    return alt.Chart(ONE_ROW).mark_rule(color=color, strokeWidth=1.4).encode(
        x=alt.value(x0), x2=alt.value(x1), y=alt.value(y))


def key_text(text, x, y, size, color="black"):
    return alt.Chart(ONE_ROW).mark_text(align="left", baseline="middle", font=FONT,
                                        fontSize=size, color=color).encode(
        x=alt.value(x), y=alt.value(y), text=alt.value(text))


def panel(ref_pts, sim_pts, domain, ticks, orient, title, title_x, height, show_x, extras):
    ys = alt.Scale(domain=domain, nice=False, zero=False)
    ya = y_axis(orient, ticks, title, title_x, height)
    xa = x_axis(show_x)
    layers = [
        series(sim_pts, RED, 1.2, ys, ya, xa),
        series(ref_pts, BLUE, 1.3, ys, ya, xa),
        inner_ticks(ticks, ys, ya, orient),
    ] + extras
    return alt.layer(*layers).properties(width=W, height=height)


# ---------------------------------------------------------------- panels
H1, H2, H3, H4 = HEIGHTS
SMALL = 14
SMALL_COLOR = "#3a3a3a"

p_speed = panel(
    speed_ref, speed_sim, [0, 140], speed_ticks, "left", "Rychlost", -91, H1, False,
    [
        alt.Chart(ONE_ROW).mark_text(align="left", baseline="alphabetic", font=FONT,
                                     fontSize=19, color="black").encode(
            x=alt.value(0), y=alt.value(-4.5),
            text=alt.value("Porovnání simulací konvenčního vozu")),
        key_line(814, 842, 33, RED), key_text("Rychlost", 847, 35, 17.5),
        key_line(814, 842, 60, BLUE), key_text("Rychlost referenční", 847, 63, 17.5),
    ],
)

rpm_ref = [(t, r) for t, r, s in engine_rpm]
rpm_sim = [(t, s) for t, r, s in engine_rpm]
p_rpm = panel(
    rpm_ref, rpm_sim, [0, 4000], rpm_ticks, "right", "[RPM]", 87, H2, False,
    [
        key_line(-114, -87, 26, RED),
        key_text("ICE otáčky", -82, 30, SMALL, SMALL_COLOR),
        key_text("motoru", -82, 48.5, SMALL, SMALL_COLOR),
        key_line(-114, -87, 68.5, BLUE),
        key_text("ICE otáčky", -82, 70, SMALL, SMALL_COLOR),
        key_text("motoru", -82, 88.5, SMALL, SMALL_COLOR),
        key_text("referenční", -82, 107, SMALL, SMALL_COLOR),
    ],
)

p_power = panel(
    power_ref, power_sim, [-40, 60], power_ticks, "left", "Výkon [kW]", -91, H3, False,
    [
        key_line(814, 842, 31, RED), key_text("ICE Výkon motoru", 847, 34.5, 17.5),
        key_line(814, 842, 58, BLUE), key_text("ICE Výkon motoru", 847, 60, 17.5),
        key_text("referenční", 847, 84, 17.5),
    ],
)

p_fuel = panel(
    fuel_ref, fuel_sim, [0, 12], fuel_ticks, "right", "[kg/h]", 65, H4, True,
    [
        key_line(-114, -87, 27, RED),
        key_text("Spotřeba", -82, 29.5, SMALL, SMALL_COLOR),
        key_text("paliva", -82, 48.5, SMALL, SMALL_COLOR),
        key_line(-114, -87, 65, BLUE),
        key_text("Spotřeba", -82, 67, SMALL, SMALL_COLOR),
        key_text("paliva", -82, 86, SMALL, SMALL_COLOR),
        key_text("referenční", -82, 106, SMALL, SMALL_COLOR),
    ],
)

chart = (
    alt.vconcat(p_speed, p_rpm, p_power, p_fuel, spacing=0, bounds="flush")
    .properties(padding={"left": 11, "top": 9, "right": 10, "bottom": 10}, background="white")
    .configure_view(stroke="#3d3d3d", strokeWidth=1.5)
)

chart.save("out.html", embed_options={"renderer": "svg", "actions": False})
